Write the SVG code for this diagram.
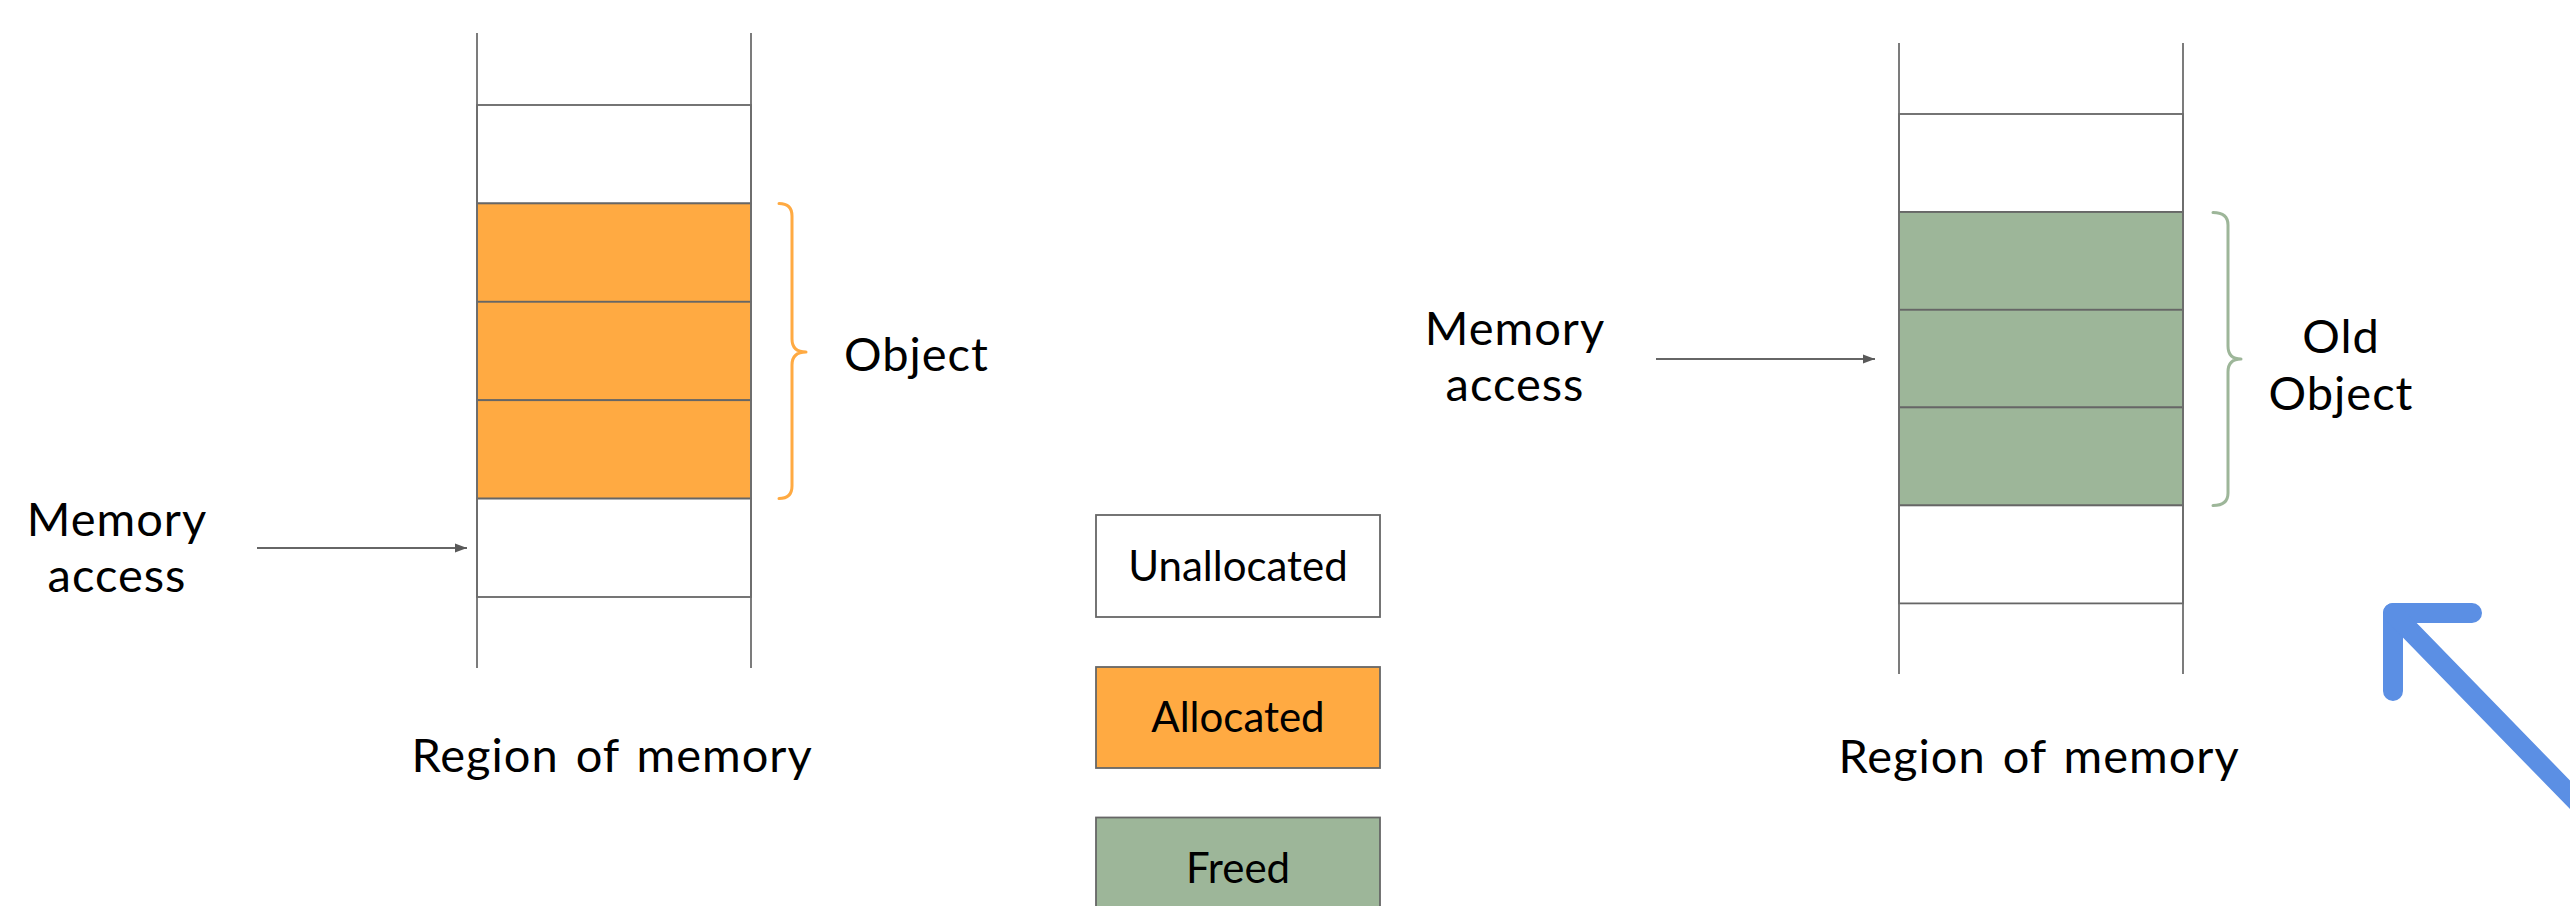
<svg xmlns="http://www.w3.org/2000/svg" width="2570" height="906" viewBox="0 0 2570 906">
<style>
.cell{stroke:#666;stroke-width:1.8}
.wall{stroke:#6e6e6e;stroke-width:1.8;fill:none}
.lbl{font-family:Lato,"Noto Sans",sans-serif;font-size:47px;fill:#000;letter-spacing:1px;word-spacing:4px}
.leg{font-family:Lato,"Noto Sans",sans-serif;font-size:42px;fill:#000;text-anchor:middle}
.mid{text-anchor:middle}
.un{fill:#fff}
.al{fill:#FFAA42}
.fr{fill:#9DB699}
.brace{fill:none;stroke-width:3;stroke-linecap:round;stroke-linejoin:round}
.conn{stroke:#666;stroke-width:1.8;fill:none}
</style>
<defs>
<marker id="ah" markerUnits="userSpaceOnUse" markerWidth="14" markerHeight="10" refX="12" refY="5" orient="auto">
<path d="M0,0.5 L12,5 L0,9.5 Z" fill="#595959"/>
</marker>
</defs>
<rect width="2570" height="906" fill="#fff"/>

<g id="region-left">
<rect class="cell un" x="477" y="105" width="274" height="98.4"/>
<rect class="cell al" x="477" y="203.4" width="274" height="98.4"/>
<rect class="cell al" x="477" y="301.8" width="274" height="98.4"/>
<rect class="cell al" x="477" y="400.2" width="274" height="98.4"/>
<rect class="cell un" x="477" y="498.6" width="274" height="98.4"/>
<line class="wall" x1="477" y1="33" x2="477" y2="668"/>
<line class="wall" x1="751" y1="33" x2="751" y2="668"/>
<text class="lbl mid" x="612" y="772">Region of memory</text>
</g>

<g id="brace-left">
<path class="brace" stroke="#FFAA42" d="M779,203.5 Q792,203.5 792,216 L792,339 Q792,352 806,352 Q792,352 792,365 L792,486 Q792,498.5 779,498.5"/>
<text class="lbl" x="844" y="371">Object</text>
</g>

<g id="access-left">
<text class="lbl mid" x="117" y="536">Memory</text>
<text class="lbl mid" x="117" y="592">access</text>
</g>

<g id="legend">
<g id="legend-unallocated">
<rect class="cell un" x="1096" y="515" width="284" height="102"/>
<text class="leg" x="1238" y="581">Unallocated</text>
</g>
<g id="legend-allocated">
<rect class="cell al" x="1096" y="667" width="284" height="101"/>
<text class="leg" x="1238" y="732">Allocated</text>
</g>
<g id="legend-freed">
<rect class="cell fr" x="1096" y="817.5" width="284" height="101"/>
<text class="leg" x="1238" y="883">Freed</text>
</g>
</g>

<g id="access-right">
<text class="lbl mid" x="1515" y="345">Memory</text>
<text class="lbl mid" x="1515" y="401">access</text>
</g>

<g id="region-right">
<rect class="cell un" x="1899" y="114" width="284" height="98"/>
<rect class="cell fr" x="1899" y="212" width="284" height="97.8"/>
<rect class="cell fr" x="1899" y="309.8" width="284" height="97.6"/>
<rect class="cell fr" x="1899" y="407.4" width="284" height="98"/>
<rect class="cell un" x="1899" y="505.4" width="284" height="98"/>
<line class="wall" x1="1899" y1="43" x2="1899" y2="674"/>
<line class="wall" x1="2183" y1="43" x2="2183" y2="674"/>
<text class="lbl mid" x="2039" y="773">Region of memory</text>
</g>

<g id="brace-right">
<path class="brace" stroke="#9DB699" d="M2213,212.5 Q2228,212.5 2228,225 L2228,346 Q2228,359 2241,359 Q2228,359 2228,372 L2228,493 Q2228,505.5 2213,505.5"/>
<text class="lbl mid" x="2341" y="353">Old</text>
<text class="lbl mid" x="2341" y="410">Object</text>
</g>

<g id="connectors">
<line class="conn" x1="257" y1="548" x2="467" y2="548" marker-end="url(#ah)"/>
<line class="conn" x1="1656" y1="359" x2="1875" y2="359" marker-end="url(#ah)"/>
<g id="blue-arrow" stroke="#5B8FE4" stroke-width="20" stroke-linecap="round" stroke-linejoin="round" fill="none">
<path d="M2472,613 L2393,613 L2393,691"/>
<line x1="2393" y1="613" x2="2578" y2="803"/>
</g>
</g>
</svg>
